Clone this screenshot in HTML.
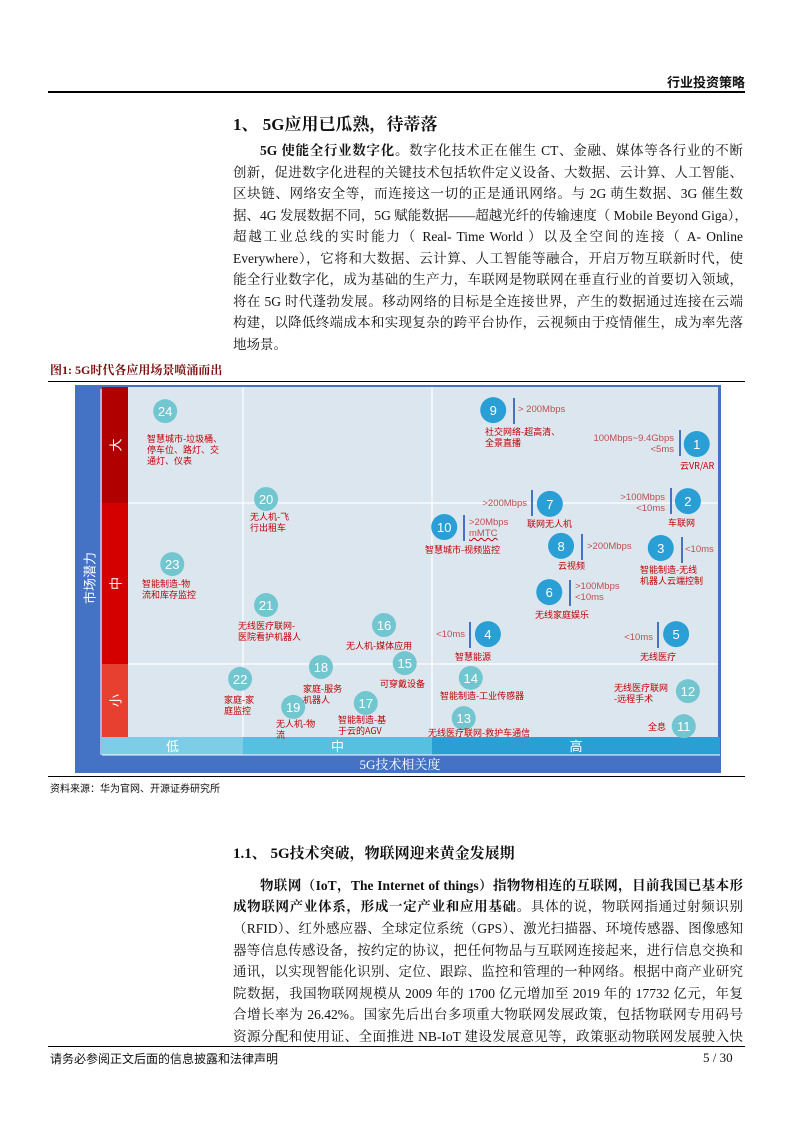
<!DOCTYPE html>
<html><head><meta charset="utf-8">
<style>
body{margin:0;width:793px;height:1122px;background:#fff;position:relative;overflow:hidden;font-family:"Liberation Serif","Noto Serif CJK SC",serif;color:#111}
.a{position:absolute}
.ln{position:absolute;left:233px;width:510px;font-size:13.5px;line-height:16px;white-space:nowrap;text-align:justify;text-align-last:justify}
.hr{position:absolute;height:0;border-top:1px solid #000;left:48px;right:48px}
.lb{position:absolute;font-family:"Noto Sans CJK SC",sans-serif;font-size:9px;line-height:11px;color:#c00000;white-space:nowrap}
.sp{position:absolute;font-family:"Liberation Sans",sans-serif;font-size:9.5px;line-height:11px;color:#c0504d;white-space:nowrap}
.bar{position:absolute;width:2px;background:#4472c4}
</style></head><body>
<div class="a" style="left:667px;top:72px;font-size:13px;font-weight:bold;font-family:'Liberation Sans','Noto Sans CJK SC',sans-serif">行业投资策略</div>
<div class="hr" style="top:91px;border-top:2px solid #000"></div>
<div class="a" style="left:233px;top:110px;font-size:17px;font-weight:bold">1、 5G应用已瓜熟，待蒂落</div>
<div>
<div class="ln" style="top:143px;padding-left:27px;width:483px"><b>5G 使能全行业数字化。</b>数字化技术正在催生 CT、金融、媒体等各行业的不断</div>
<div class="ln" style="top:165px">创新，促进数字化进程的关键技术包括软件定义设备、大数据、云计算、人工智能、</div>
<div class="ln" style="top:186px">区块链、网络安全等，而连接这一切的正是通讯网络。与 2G 萌生数据、3G 催生数</div>
<div class="ln" style="top:208px">据、4G 发展数据不同，5G 赋能数据——超越光纤的传输速度（ Mobile Beyond Giga），</div>
<div class="ln" style="top:229px">超越工业总线的实时能力（ Real- Time World ）以及全空间的连接（ A- Online</div>
<div class="ln" style="top:251px">Everywhere），它将和大数据、云计算、人工智能等融合，开启万物互联新时代，使</div>
<div class="ln" style="top:272px">能全行业数字化，成为基础的生产力，车联网是物联网在垂直行业的首要切入领域，</div>
<div class="ln" style="top:294px">将在 5G 时代蓬勃发展。移动网络的目标是全连接世界，产生的数据通过连接在云端</div>
<div class="ln" style="top:315px">构建，以降低终端成本和实现复杂的跨平台协作，云视频由于疫情催生，成为率先落</div>
<div class="ln" style="top:337px;text-align-last:left">地场景。</div>
</div>
<div class="a" style="left:50px;top:361px;font-size:12px;font-weight:bold;color:#7a0c0c">图1: 5G时代各应用场景喷涌而出</div>
<div class="hr" style="top:381px"></div>

<svg class="a" style="left:0;top:0" width="793" height="800" id="chart"></svg>
<div id="labels"></div>

<div class="hr" style="top:776px"></div>
<div class="a" style="left:50px;top:780px;font-size:10px;font-family:'Noto Sans CJK SC',sans-serif">资料来源：华为官网、开源证券研究所</div>

<div class="a" style="left:233px;top:842px;font-size:15px;font-weight:bold">1.1、 5G技术突破，物联网迎来黄金发展期</div>
<div>
<div class="ln" style="top:878px;padding-left:27px;width:483px"><b>物联网（IoT，The Internet of things）指物物相连的互联网，目前我国已基本形</b></div>
<div class="ln" style="top:899px"><b>成物联网产业体系，形成一定产业和应用基础。</b>具体的说，物联网指通过射频识别</div>
<div class="ln" style="top:921px">（RFID）、红外感应器、全球定位系统（GPS）、激光扫描器、环境传感器、图像感知</div>
<div class="ln" style="top:943px">器等信息传感设备，按约定的协议，把任何物品与互联网连接起来，进行信息交换和</div>
<div class="ln" style="top:964px">通讯，以实现智能化识别、定位、跟踪、监控和管理的一种网络。根据中商产业研究</div>
<div class="ln" style="top:986px">院数据，我国物联网规模从 2009 年的 1700 亿元增加至 2019 年的 17732 亿元，年复</div>
<div class="ln" style="top:1007px">合增长率为 26.42%。国家先后出台多项重大物联网发展政策，包括物联网专用码号</div>
<div class="ln" style="top:1029px">资源分配和使用证、全面推进 NB-IoT 建设发展意见等，政策驱动物联网发展驶入快</div>
</div>
<div class="hr" style="top:1046px"></div>
<div class="a" style="left:50px;top:1050px;font-size:12px;font-family:'Noto Sans CJK SC',sans-serif">请务必参阅正文后面的信息披露和法律声明</div>
<div class="a" style="left:703px;top:1050px;font-size:13px">5 / 30</div>

<script>
const ids=[1,2,3,4,5,6,7,8,9,10,11,12,13,14,15,16,17,18,19,20,21,22,23,24];
const relevance=[9.64,9.49,9.03,6.10,9.29,7.14,7.15,7.34,6.19,5.36,9.42,9.49,5.69,5.81,4.69,4.34,4.03,3.27,2.80,2.34,2.34,1.90,0.75,0.63];
const potential=[8.37,6.74,5.40,2.94,2.94,4.14,6.66,5.46,9.34,6.00,0.31,1.31,0.54,1.69,2.11,3.20,0.97,2.00,0.86,6.80,3.77,1.66,4.94,9.31];
const xBands=['低','中','高'];
const yBands=['大','中','小'];
const X=v=>128+v*59, Y=v=>737-v*35;
const ns='http://www.w3.org/2000/svg';
const svg=document.getElementById('chart');
function mk(t,a,p){const e=document.createElementNS(ns,t);for(const k in a)e.setAttribute(k,a[k]);(p||svg).appendChild(e);return e;}
let e;
e=mk('rect',{x:75,y:385,width:646,height:388,fill:'#4472c4'});


e=mk('rect',{x:128,y:387,width:590,height:350,fill:'#dce6ef'});


[[243,387,243,737],[432,387,432,737],[102,503,718,503],[102,664,718,664]].forEach(g=>{
 e=mk('line',{x1:g[0],y1:g[1],x2:g[2],y2:g[3],stroke:'#fff','stroke-width':1.2});
 
 
});
const yb=[[387,503,'#b00000'],[503,664,'#d40000'],[664,737,'#e84030']];
yb.forEach((b,i)=>{
 e=mk('rect',{x:102,y:b[0],width:26,height:b[1]-b[0],fill:b[2]});
 
 
 e=mk('text',{x:115,y:(b[0]+b[1])/2,fill:'#fff','font-size':13,'text-anchor':'middle','dominant-baseline':'central','font-family':'Noto Sans CJK SC,sans-serif',transform:`rotate(-90 115 ${(b[0]+b[1])/2})`});
 e.textContent=yBands[i];
 
 
});
const xb=[[102,243,'#7ecde6'],[243,432,'#57c0e0'],[432,720,'#2b9fd4']];
xb.forEach((b,i)=>{
 e=mk('rect',{x:b[0],y:737,width:b[1]-b[0],height:18,fill:b[2]});
 
 
 e=mk('text',{x:(b[0]+b[1])/2,y:751,fill:'#fff','font-size':13,'text-anchor':'middle','font-family':'Noto Sans CJK SC,sans-serif'});
 e.textContent=xBands[i];
 
 
});
e=mk('line',{x1:102,y1:755,x2:720,y2:755,stroke:'#fff','stroke-width':1});
e=mk('line',{x1:101,y1:755,x2:101,y2:389,stroke:'#fff','stroke-width':1});
e=mk('text',{x:400,y:769,fill:'#fff','font-size':13,'text-anchor':'middle','font-family':'Liberation Serif,Noto Serif CJK SC,serif'});
e.textContent='5G技术相关度';


e=mk('text',{x:89,y:578,fill:'#fff','font-size':13,'text-anchor':'middle','dominant-baseline':'central','font-family':'Noto Sans CJK SC,sans-serif',transform:'rotate(-90 89 578)'});
e.textContent='市场潜力';


ids.forEach((id,i)=>{
 const dark=id<=10;
 e=mk('circle',{cx:X(relevance[i]),cy:Y(potential[i]),r:dark?13:12,fill:dark?'#2a9fd6':'#72c6d0'});
 
 
 e=mk('text',{x:X(relevance[i]),y:Y(potential[i])+5,fill:'#fff','font-size':13,'text-anchor':'middle','font-family':'Liberation Sans,sans-serif'});
 e.textContent=id;
 
 
});
const names=[
[147,433,'智慧城市-垃圾桶、<br>停车位、路灯、交<br>通灯、仪表'],[250,511,'无人机-飞<br>行出租车'],[142,578,'智能制造-物<br>流和库存监控'],
[238,620,'无线医疗联网-<br>医院看护机器人'],[346,640,'无人机-媒体应用'],[380,678,'可穿戴设备'],[303,683,'家庭-服务<br>机器人'],
[224,694,'家庭-家<br>庭监控'],[276,718,'无人机-物<br>流'],[338,714,'智能制造-基<br>于云的AGV'],[440,690,'智能制造-工业传感器'],
[428,727,'无线医疗联网-救护车通信'],[455,651,'智慧能源'],[640,651,'无线医疗'],[614,682,'无线医疗联网<br>-远程手术'],[648,721,'全息'],
[535,609,'无线家庭娱乐'],[640,564,'智能制造-无线<br>机器人云端控制'],[558,560,'云视频'],[527,518,'联网无人机'],[668,517,'车联网'],
[425,544,'智慧城市-视频监控'],[485,426,'社交网络-超高清、<br>全景直播'],[680,460,'云VR/AR']];
const L=document.getElementById('labels');
names.forEach(n=>{const d=document.createElement('div');d.className='lb';d.style.left=n[0]+'px';d.style.top=n[1]+'px';d.innerHTML=n[2];


L.appendChild(d);});
const specs=[
[513,398,518,404,'&gt; 200Mbps',0],[679,430,674,433,'100Mbps~9.4Gbps<br>&lt;5ms',1],[531,490,527,498,'&gt;200Mbps',1],
[670,488,665,492,'&gt;100Mbps<br>&lt;10ms',1],[463,515,469,517,'&gt;20Mbps<br><u style="text-decoration-color:#c00;text-decoration-style:wavy">mMTC</u>',0],
[581,534,587,541,'&gt;200Mbps',0],[681,537,685,544,'&lt;10ms',0],[569,580,575,581,'&gt;100Mbps<br>&lt;10ms',0],
[469,622,465,629,'&lt;10ms',1],[657,622,653,632,'&lt;10ms',1]];
specs.forEach(s=>{
 const b=document.createElement('div');b.className='bar';b.style.left=s[0]+'px';b.style.top=s[1]+'px';b.style.height='26px';
 
 
 L.appendChild(b);
 const t=document.createElement('div');t.className='sp';t.style.top=s[3]+'px';t.innerHTML=s[4];
 if(s[5]){t.style.right=(793-s[2])+'px';t.style.textAlign='right';}else t.style.left=s[2]+'px';
 
 
 L.appendChild(t);
});
</script>
</body></html>
